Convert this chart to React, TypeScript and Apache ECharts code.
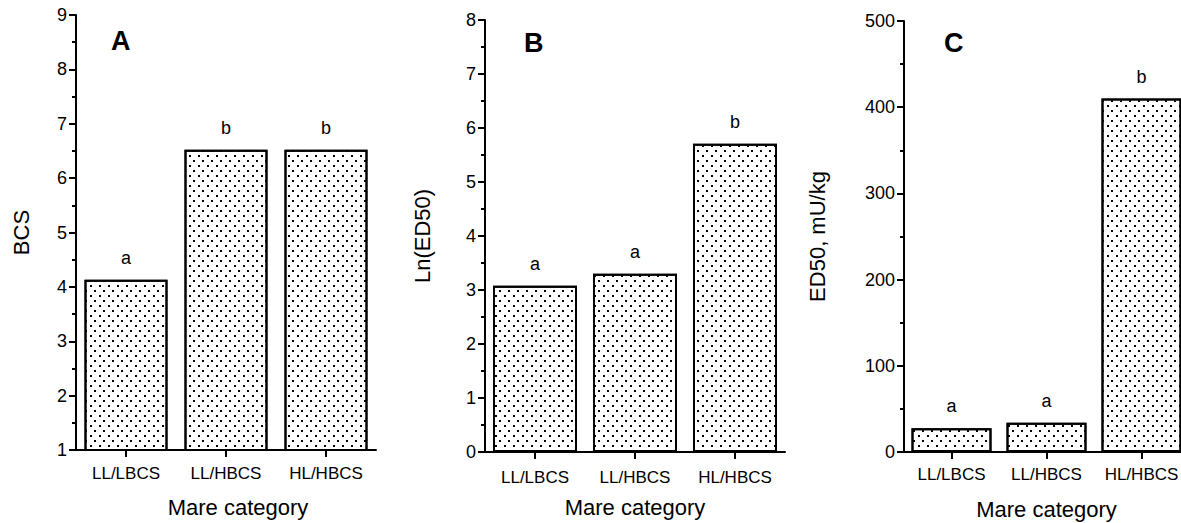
import React, { useEffect, useRef } from "react";
import * as echarts from "echarts";

const categories = ["LL/LBCS", "LL/HBCS", "HL/HBCS"];
const bcsValues = [4.13, 6.52, 6.52];
const lnEd50Values = [3.08, 3.3, 5.71];
const ed50Values = [27.5, 34, 410];
const sigA = ["a", "b", "b"];
const sigB = ["a", "a", "b"];
const sigC = ["a", "a", "b"];
const panelLetters = ["A", "B", "C"];
const yNames = ["BCS", "Ln(ED50)", "ED50, mU/kg"];
const xName = "Mare category";

const FONT = "Liberation Sans, Arial, sans-serif";

const decal = {
  symbol: "rect",
  symbolSize: 1,
  color: "#000000",
  backgroundColor: "#ffffff",
  dashArrayX: [
    [1.6, 6.4],
    [0, 4, 1.6, 2.4],
  ],
  dashArrayY: [1.6, 2.4],
  rotation: 0,
};

export default function App() {
  const ref = useRef<HTMLDivElement>(null);
  useEffect(() => {
    if (!ref.current) return;
    const chart = echarts.init(ref.current, undefined, { renderer: "svg" });

    const grids = [
      { left: 76, top: 15, width: 300, height: 435 },
      { left: 485, top: 20, width: 300, height: 432 },
      { left: 904, top: 21, width: 285, height: 431 },
    ];
    const yCfg = [
      { min: 1, max: 9, interval: 1, nameGap: 44 },
      { min: 0, max: 8, interval: 1, nameGap: 52 },
      { min: 0, max: 500, interval: 100, nameGap: 76 },
    ];
    const xNameGap = [46, 44, 46];
    const labelMargin = [15, 17, 14];
    const barWidths = [83, 84, 80];
    const datasets = [bcsValues, lnEd50Values, ed50Values];
    const sigs = [sigA, sigB, sigC];

    const axisLine = { show: true, lineStyle: { color: "#000", width: 2 } };

    const option: any = {
      animation: false,
      backgroundColor: "#ffffff",
      grid: grids.map((g) => ({ ...g, containLabel: false, outerBoundsMode: "none" })),
      xAxis: grids.map((_, i) => ({
        type: "category",
        gridIndex: i,
        data: categories,
        axisLine,
        axisTick: { show: true, alignWithLabel: true, length: 7, lineStyle: { color: "#000", width: 2 } },
        axisLabel: { color: "#000", fontFamily: FONT, fontSize: 17, margin: labelMargin[i], interval: 0 },
        name: xName,
        nameLocation: "middle",
        nameGap: xNameGap[i],
        nameTextStyle: {
          color: "#000",
          fontFamily: FONT,
          fontSize: 22,
          padding: i === 0 ? [0, 0, 0, 24] : 0,
        },
        splitLine: { show: false },
      })),
      yAxis: grids.map((_, i) => ({
        type: "value",
        gridIndex: i,
        min: yCfg[i].min,
        max: yCfg[i].max,
        interval: yCfg[i].interval,
        axisLine,
        axisTick: { show: true, length: 7, lineStyle: { color: "#000", width: 2 } },
        minorTick: { show: true, splitNumber: 2, length: 4, lineStyle: { color: "#000", width: 2 } },
        axisLabel: { color: "#000", fontFamily: FONT, fontSize: 18, margin: 9 },
        splitLine: { show: false },
        minorSplitLine: { show: false },
        name: yNames[i],
        nameLocation: "middle",
        nameRotate: 90,
        nameGap: yCfg[i].nameGap,
        nameTextStyle: { color: "#000", fontFamily: FONT, fontSize: 22 },
      })),
      series: datasets.map((vals, i) => ({
        type: "bar",
        xAxisIndex: i,
        yAxisIndex: i,
        barWidth: barWidths[i],
        clip: true,
        data: vals.map((v, j) => ({
          value: v,
          label: {
            show: true,
            position: "top",
            distance: 13,
            formatter: sigs[i][j],
            color: "#000",
            fontFamily: FONT,
            fontSize: 18,
          },
        })),
        itemStyle: {
          color: "#ffffff",
          borderColor: "#000",
          borderWidth: 2,
          decal,
        },
      })),
      graphic: [
        { type: "text", left: 111, top: 27, style: { text: panelLetters[0], font: `bold 27px ${FONT}`, fill: "#000" } },
        { type: "text", left: 524, top: 29, style: { text: panelLetters[1], font: `bold 27px ${FONT}`, fill: "#000" } },
        { type: "text", left: 944, top: 29, style: { text: panelLetters[2], font: `bold 27px ${FONT}`, fill: "#000" } },
      ],
    };
    chart.setOption(option);
    return () => chart.dispose();
  }, []);

  return (
    <div style={{ position: "absolute", left: 0, top: 0, width: 1181, height: 523, overflow: "hidden", background: "#fff" }}>
      <div ref={ref} style={{ width: 1200, height: 523 }} />
    </div>
  );
}
